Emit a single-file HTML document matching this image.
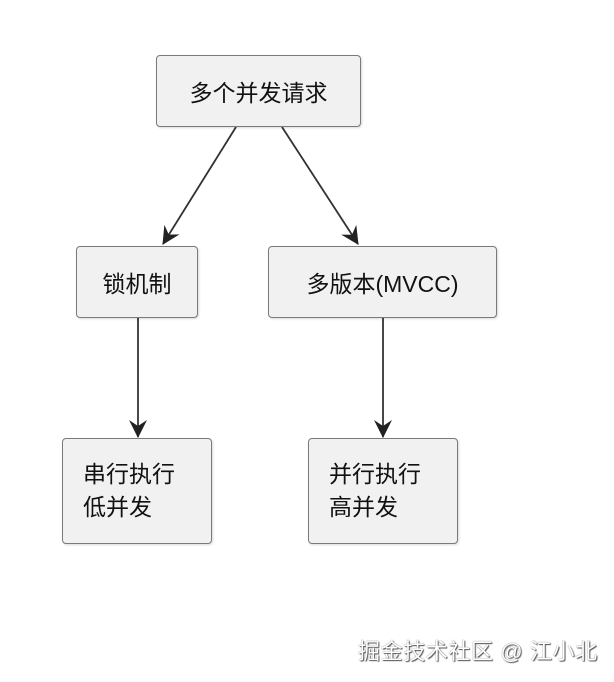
<!DOCTYPE html>
<html><head><meta charset="utf-8"><style>
body{margin:0;width:614px;height:682px;background:#fff;position:relative;overflow:hidden;font-family:"Liberation Sans","Noto Sans CJK SC",sans-serif;}
.b{position:absolute;box-sizing:border-box;background:#f1f1f1;border:1.5px solid #7a7a7a;border-radius:4px;color:#111;font-size:23px;display:flex;align-items:center;justify-content:center;box-shadow:1px 1px 2px rgba(0,0,0,0.15);}
.m{justify-content:flex-start;padding-left:20px;line-height:33px;}
.w{position:absolute;left:358px;top:634px;font-size:22px;color:#fff;text-shadow:0 0 1px #444,1px 1px 1px #555;letter-spacing:0.6px;}
</style></head><body>
<svg width="614" height="682" style="position:absolute;left:0;top:0">
<defs><marker id="a" markerWidth="20" markerHeight="20" refX="17" refY="9" orient="auto" markerUnits="userSpaceOnUse"><path d="M0,0 L18,9 L0,18 L6,9 Z" fill="#222"/></marker></defs>
<g stroke="#333" stroke-width="1.8" fill="none">
<line x1="236" y1="127" x2="163" y2="244" marker-end="url(#a)"/>
<line x1="282" y1="127" x2="358" y2="244" marker-end="url(#a)"/>
<line x1="138" y1="318" x2="138" y2="437" marker-end="url(#a)"/>
<line x1="383" y1="318" x2="383" y2="437" marker-end="url(#a)"/>
</g></svg>
<div class="b" style="left:156px;top:55px;width:205px;height:72px">多个并发请求</div>
<div class="b" style="left:76px;top:246px;width:122px;height:72px">锁机制</div>
<div class="b" style="left:268px;top:246px;width:229px;height:72px">多版本(MVCC)</div>
<div class="b m" style="left:62px;top:438px;width:150px;height:106px">串行执行<br>低并发</div>
<div class="b m" style="left:308px;top:438px;width:150px;height:106px">并行执行<br>高并发</div>
<div class="w">掘金技术社区 @ 江小北</div>
</body></html>
